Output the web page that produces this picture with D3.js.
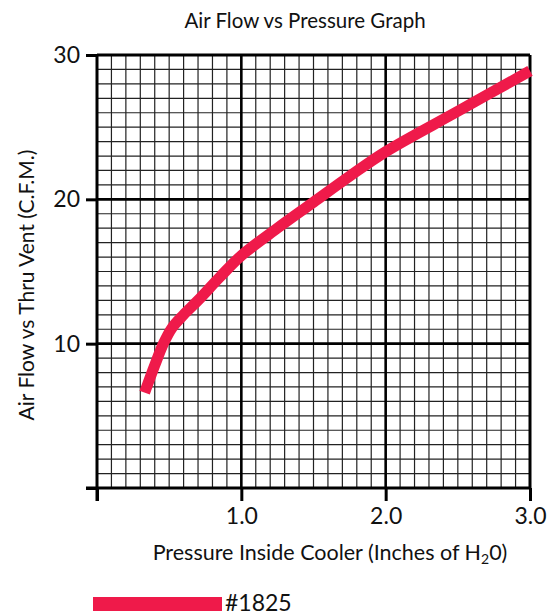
<!DOCTYPE html>
<html>
<head>
<meta charset="utf-8">
<script src="https://cdn.jsdelivr.net/npm/d3@7"></script>
<style>
  html, body { margin: 0; padding: 0; background: #fff; }
  svg { display: block; }
  text { font-family: Lato, "Noto Sans", sans-serif; fill: #111; }
</style>
</head>
<body>
<svg id="chart" width="556" height="616"></svg>
<script>
// Air flow (C.F.M.) through the vent versus pressure inside the cooler
const pressure = [0.33, 0.40, 0.46, 0.52, 0.60, 0.70, 0.85, 1.00, 1.25, 1.50, 1.75, 2.00, 2.50, 3.00];
const airFlow  = [6.6, 8.5, 10.0, 11.1, 12.0, 13.0, 14.6, 16.1, 18.0, 19.8, 21.6, 23.3, 26.1, 28.9];
const seriesName = "#1825";

const xTicks = [0, 1, 2, 3];
const xTickLabels = ["", "1.0", "2.0", "3.0"];
const yTicks = [0, 10, 20, 30];
const yTickLabels = ["", "10", "20", "30"];

const title = "Air Flow vs Pressure Graph";
const yTitle = "Air Flow vs Thru Vent (C.F.M.)";

const svg = d3.select("#chart");
const plotLeft = 97, plotRight = 530, plotTop = 55, plotBottom = 488;

const x = d3.scaleLinear().domain([0, 3]).range([plotLeft, plotRight]);
const y = d3.scaleLinear().domain([0, 30]).range([plotBottom, plotTop]);

// Minor grid: every 0.1 in. of H2O and every 1 C.F.M.
const grid = svg.append("g");
d3.range(1, 30).filter(i => i % 10 !== 0).forEach(i => {
  grid.append("line")
    .attr("x1", x(i / 10)).attr("x2", x(i / 10))
    .attr("y1", y(0)).attr("y2", y(30))
    .attr("stroke", "#222").attr("stroke-width", 1.2);
});
d3.range(1, 30).filter(i => i % 10 !== 0).forEach(i => {
  grid.append("line")
    .attr("x1", x(0)).attr("x2", x(3))
    .attr("y1", y(i)).attr("y2", y(i))
    .attr("stroke", "#222").attr("stroke-width", 1.2);
});

// Major grid lines and the frame
[1, 2].forEach(v => {
  grid.append("line").attr("x1", x(v)).attr("x2", x(v))
    .attr("y1", y(30)).attr("y2", y(0)).attr("stroke", "#000").attr("stroke-width", 2.6);
});
grid.append("line").attr("x1", x(3)).attr("x2", x(3))
  .attr("y1", y(30)).attr("y2", y(0)).attr("stroke", "#000").attr("stroke-width", 3);
[10, 20].forEach(v => {
  grid.append("line").attr("x1", x(0)).attr("x2", x(3))
    .attr("y1", y(v)).attr("y2", y(v)).attr("stroke", "#000").attr("stroke-width", 2.6);
});
grid.append("line").attr("x1", x(0)).attr("x2", x(3))
  .attr("y1", y(30)).attr("y2", y(30)).attr("stroke", "#000").attr("stroke-width", 3);

// Axes
const xAxis = d3.axisBottom(x).tickValues(xTicks)
  .tickFormat((d, i) => xTickLabels[i]).tickSize(13).tickPadding(7);
const gx = svg.append("g").attr("transform", `translate(0,${plotBottom})`).call(xAxis);
gx.select(".domain").attr("d", `M${x(0) - 11},0H${x(3)}`).attr("stroke", "#000").attr("stroke-width", 3);
gx.selectAll(".tick line").attr("stroke", "#000").attr("stroke-width", 3);
gx.selectAll(".tick text").attr("font-family", "Lato, 'Noto Sans', sans-serif")
  .attr("font-size", 23).attr("fill", "#111");

const yAxis = d3.axisLeft(y).tickValues(yTicks)
  .tickFormat((d, i) => yTickLabels[i]).tickSize(11).tickPadding(6);
const gy = svg.append("g").attr("transform", `translate(${plotLeft},0)`).call(yAxis);
gy.select(".domain").attr("d", `M0,${y(30)}V${y(0) + 13}`).attr("stroke", "#000").attr("stroke-width", 3);
gy.selectAll(".tick line").attr("stroke", "#000").attr("stroke-width", 3);
gy.selectAll(".tick text").attr("font-family", "Lato, 'Noto Sans', sans-serif")
  .attr("font-size", 23).attr("fill", "#111");

// Curve
const pts = pressure.map((p, i) => [p, airFlow[i]]);
const line = d3.line().x(d => x(d[0])).y(d => y(d[1])).curve(d3.curveCatmullRom.alpha(0.5));
svg.append("path").datum(pts).attr("d", line)
  .attr("fill", "none").attr("stroke", "#ef1a4a").attr("stroke-width", 11)
  .attr("stroke-linecap", "butt").attr("stroke-linejoin", "round");

// Titles
svg.append("text").attr("x", 305).attr("y", 28).attr("text-anchor", "middle")
  .attr("font-size", 20.5).text(title);

const xt = svg.append("text").attr("x", 330).attr("y", 560).attr("text-anchor", "middle")
  .attr("font-size", 21.5);
xt.append("tspan").text("Pressure Inside Cooler (Inches of H");
xt.append("tspan").attr("font-size", 14).attr("dy", 4).text("2");
xt.append("tspan").attr("dy", -4).text("0)");

svg.append("text").attr("transform", "translate(34,285) rotate(-90)")
  .attr("text-anchor", "middle").attr("font-size", 21).text(yTitle);

// Legend
const lg = svg.append("g");
lg.append("rect").attr("x", 93).attr("y", 597).attr("width", 129).attr("height", 14)
  .attr("fill", "#ef1a4a");
lg.append("text").attr("x", 225).attr("y", 611).attr("font-size", 23).text(seriesName);
</script>
</body>
</html>
